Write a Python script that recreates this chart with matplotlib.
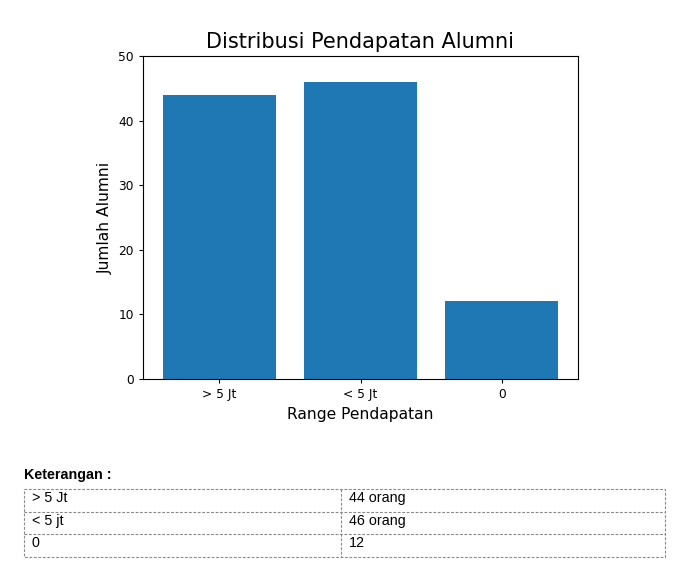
import matplotlib.pyplot as plt
from matplotlib.patches import Rectangle

# data
categories = ["> 5 Jt", "< 5 Jt", "0"]
counts = [44, 46, 12]

# keterangan table
ket_labels = ["> 5 Jt", "< 5 jt", "0"]
ket_values = ["44 orang", "46 orang", "12"]

W, H = 688, 578
fig = plt.figure(figsize=(W / 100, H / 100), dpi=100)


def px_box(x, y, w, h):
    # pixel box (top-left origin) -> figure fraction
    return [x / W, 1 - (y + h) / H, w / W, h / H]


ax = fig.add_axes(px_box(143, 56, 435, 323))
ax.bar(categories, counts, color="#1f77b4")
ax.set_ylim(0, 50)
ax.set_title("Distribusi Pendapatan Alumni", fontsize=15)
ax.set_xlabel("Range Pendapatan", fontsize=11.2)
ax.set_ylabel("Jumlah Alumni", fontsize=11.2)
ax.tick_params(labelsize=8.8, length=3.1)

# keterangan section, drawn in pixel coordinates
tab = fig.add_axes([0, 0, 1, 1], zorder=-1)
tab.set_xlim(0, W)
tab.set_ylim(H, 0)
tab.axis("off")

tab.text(24, 479, "Keterangan :", fontsize=10.3, fontweight="bold",
         family="Liberation Sans", va="baseline")

left, right, mid = 24, 665, 341
top, row_h = 489, 22.7
border = dict(color="#888888", lw=0.8, ls=(0, (2.5, 1.5)))
n = len(ket_labels)
tab.add_patch(Rectangle((left, top), right - left, row_h * n, fill=False, **border))
for i in range(1, n):
    tab.plot([left, right], [top + i * row_h] * 2, **border)
tab.plot([mid, mid], [top, top + row_h * n], **border)

for i, (lab, val) in enumerate(zip(ket_labels, ket_values)):
    y = top + i * row_h + 13
    tab.text(32, y, lab, fontsize=10.3, family="Liberation Sans", va="baseline")
    tab.text(349, y, val, fontsize=10.3, family="Liberation Sans", va="baseline")

fig.savefig("out.png", dpi=100)
